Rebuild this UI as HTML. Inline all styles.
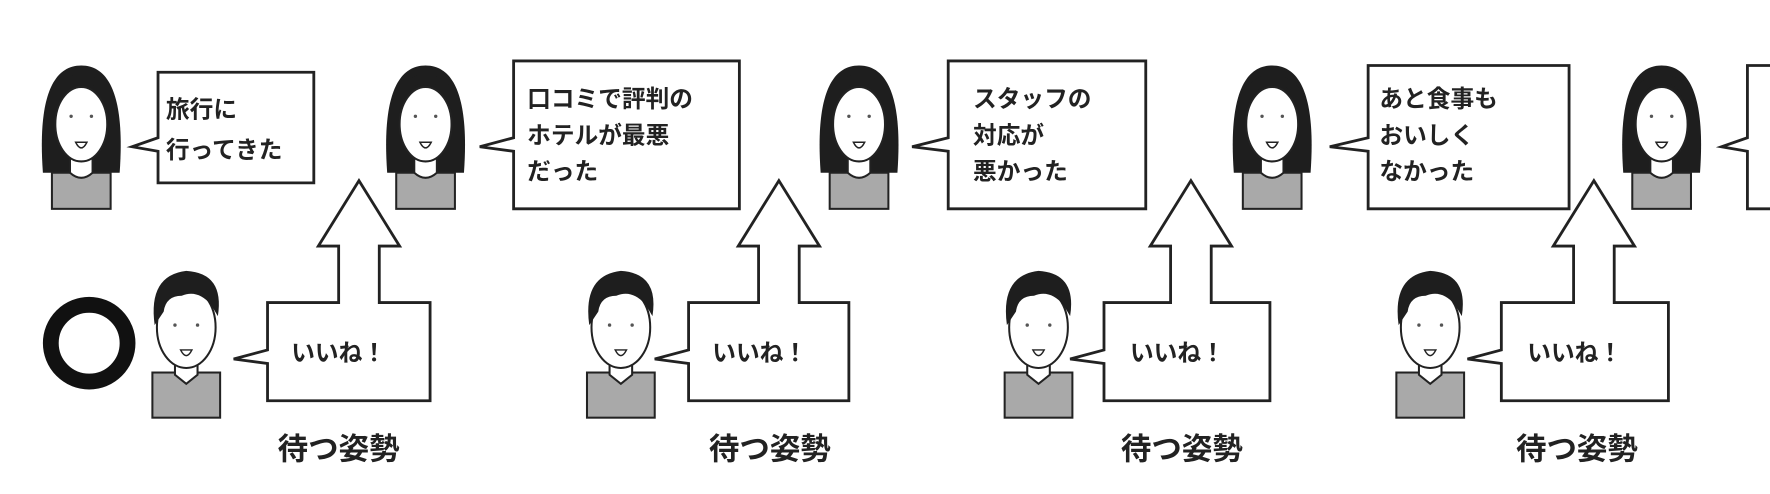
<!DOCTYPE html>
<html><head><meta charset="utf-8"><style>
html,body{margin:0;padding:0;background:#fff;width:1770px;height:494px;overflow:hidden}
svg{display:block}
text{font-family:"Liberation Sans","Noto Sans CJK JP",sans-serif;fill:#222}
</style></head><body>
<svg width="1770" height="494" viewBox="0 0 1568 437.6" xmlns="http://www.w3.org/2000/svg">
<defs>
<g id="woman">
  <path d="M-34,95 C-38,40 -30,0 0,0 C30,0 38,40 34,95 Z" fill="#1e1e1e"/>
  <rect x="-26" y="95" width="52" height="32" fill="#a9a9a9" stroke="#222" stroke-width="1.8"/>
  <path d="M-10,78 L-10,95 Q0,104 10,95 L10,78 Z" fill="#fff" stroke="#222" stroke-width="1.8"/>
  <ellipse cx="0" cy="52" rx="23" ry="33" fill="#fff" stroke="#222" stroke-width="1.8"/>
  <path d="M-23,40 Q-10,10 0,18 Q14,10 23,40 L24,20 Q0,-5 -24,20 Z" fill="#1e1e1e"/>
  <circle cx="-9" cy="45" r="1.5" fill="#555"/><circle cx="9" cy="45" r="1.5" fill="#555"/>
  <path d="M-5,68 Q0,78 5,68 Z" fill="#fff" stroke="#222" stroke-width="1.3"/>
</g>
<g id="man">
  <rect x="-30" y="90" width="60" height="40" fill="#a9a9a9" stroke="#222" stroke-width="1.8"/>
  <path d="M-10,80 L-10,92 L0,100 L10,92 L10,80 Z" fill="#fff" stroke="#222" stroke-width="1.8"/>
  <ellipse cx="0" cy="50" rx="26" ry="36" fill="#fff" stroke="#222" stroke-width="1.8"/>
  <path d="M-28,48 Q-34,4 0,0 Q34,2 28,40 L22,30 Q10,16 -4,22 Q-18,22 -20,36 Z" fill="#1e1e1e"/>
  <circle cx="-10" cy="48" r="1.5" fill="#555"/><circle cx="10" cy="48" r="1.5" fill="#555"/>
  <path d="M-5,70 Q0,80 5,70 Z" fill="#fff" stroke="#222" stroke-width="1.3"/>
</g>
</defs>
<g fill="#fff" stroke="#222" stroke-width="2.5">
<path d="M140,64 H278 V162 H140 V134 L117,130 L140,122 Z"/>
<path d="M455,54 H655 V185 H455 V134 L425,130 L455,122 Z"/>
<path d="M840,54 H1015 V185 H840 V134 L808,130 L840,122 Z"/>
<path d="M1212,58 H1390 V185 H1212 V134 L1178,130 L1212,122 Z"/>
<path d="M1580,58 H1548 V122 L1525,130 L1548,134 V185 H1580"/>
<path d="M300,268 V218 H282 L318,160 L354,218 H336 V268 H381 V355 H237 V322 L207,318 L237,310 V268 Z"/>
<path d="M672,268 V218 H654 L690,160 L726,218 H708 V268 H752 V355 H610 V322 L580,318 L610,310 V268 Z"/>
<path d="M1037,268 V218 H1019 L1055,160 L1091,218 H1073 V268 H1125 V355 H978 V322 L948,318 L978,310 V268 Z"/>
<path d="M1394,268 V218 H1376 L1412,160 L1448,218 H1430 V268 H1478 V355 H1330 V322 L1300,318 L1330,310 V268 Z"/>
</g>
<use href="#woman" x="72" y="58"/>
<use href="#woman" x="377" y="58"/>
<use href="#woman" x="761" y="58"/>
<use href="#woman" x="1127" y="58"/>
<use href="#woman" x="1472" y="58"/>
<use href="#man" x="165" y="240"/>
<use href="#man" x="550" y="240"/>
<use href="#man" x="920" y="240"/>
<use href="#man" x="1267" y="240"/>
<circle cx="79" cy="304" r="34" fill="none" stroke="#111" stroke-width="14"/>
<g font-size="21" font-weight="bold" style="font-weight:600">
<text x="147" y="104">旅行に</text><text x="147" y="140">行ってきた</text>
<text x="467" y="95">口コミで評判の</text><text x="467" y="127">ホテルが最悪</text><text x="467" y="159">だった</text>
<text x="862" y="95">スタッフの</text><text x="862" y="127">対応が</text><text x="862" y="159">悪かった</text>
<text x="1222" y="95">あと食事も</text><text x="1222" y="127">おいしく</text><text x="1222" y="159">なかった</text>
<text x="258" y="320">いいね！</text>
<text x="631" y="320">いいね！</text>
<text x="1001" y="320">いいね！</text>
<text x="1353" y="320">いいね！</text>
</g>
<g font-size="27" font-weight="bold">
<text x="246" y="407">待つ姿勢</text>
<text x="628" y="407">待つ姿勢</text>
<text x="993" y="407">待つ姿勢</text>
<text x="1343" y="407">待つ姿勢</text>
</g>
</svg>
</body></html>
